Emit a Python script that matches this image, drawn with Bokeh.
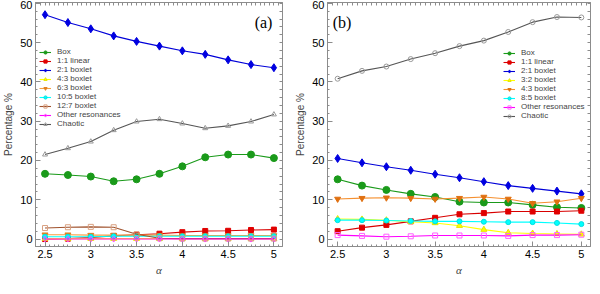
from bokeh.plotting import figure
from bokeh.layouts import row
from bokeh.models import Range1d, LinearAxis, Label, Legend, LegendItem, FixedTicker
from bokeh.embed import file_html
from bokeh.resources import INLINE

# ---------------- data ----------------
alpha = [2.5, 2.75, 3.0, 3.25, 3.5, 3.75, 4.0, 4.25, 4.5, 4.75, 5.0]

# panel (a)
a_box = [16.6, 16.3, 15.9, 14.7, 15.2, 16.6, 18.5, 20.8, 21.5, 21.5, 20.6]
a_linear_11 = [0.0, 0.1, 0.4, 0.8, 1.1, 1.35, 1.75, 2.05, 2.1, 2.3, 2.4]
a_boxlet_21 = [57.1, 55.1, 53.5, 51.7, 50.3, 49.1, 47.9, 47.0, 45.6, 44.4, 43.6]
a_boxlet_43 = [0.1, 0.1, 0.1, 0.1, 0.1, 0.1, 0.1, 0.1, 0.1, 0.1, 0.1]
a_boxlet_63 = [1.1, 1.1, 1.0, 1.0, 1.0, 1.0, 0.9, 0.9, 0.9, 0.9, 0.9]
a_boxlet_105 = [0.6, 0.6, 0.6, 0.7, 0.7, 0.7, 0.7, 0.7, 0.7, 0.7, 0.7]
a_boxlet_127 = [2.8, 3.0, 3.1, 3.0, 1.2, 0.2, 0.1, 0.1, 0.1, 0.1, 0.1]
a_other = [0.0, 0.0, 0.0, 0.0, 0.0, 0.0, 0.0, 0.0, 0.0, 0.0, 0.0]
a_chaotic = [21.5, 23.1, 24.8, 27.7, 29.9, 30.5, 29.4, 28.2, 28.8, 29.9, 31.7]

# panel (b)
b_box = [15.2, 13.6, 12.5, 11.5, 10.7, 9.5, 9.3, 9.3, 8.7, 8.1, 7.9]
b_linear_11 = [2.0, 2.9, 3.6, 4.5, 5.4, 6.3, 6.6, 7.0, 7.0, 7.0, 7.2]
b_boxlet_21 = [20.5, 19.4, 18.4, 17.5, 16.5, 15.6, 14.6, 13.6, 12.9, 12.2, 11.5]
b_boxlet_32 = [5.1, 5.0, 4.8, 4.4, 4.1, 3.4, 2.4, 1.6, 1.4, 1.3, 1.2]
b_boxlet_43 = [10.2, 10.4, 10.5, 10.4, 10.2, 10.4, 10.7, 10.2, 9.1, 9.5, 10.4]
b_boxlet_85 = [4.8, 4.8, 4.7, 4.6, 4.5, 4.5, 4.4, 4.3, 4.3, 4.1, 3.8]
b_other = [1.0, 0.8, 0.6, 0.7, 0.9, 0.9, 0.9, 0.8, 1.0, 1.0, 1.1]
b_chaotic = [40.8, 42.8, 43.9, 45.8, 47.3, 49.1, 50.5, 52.7, 55.2, 56.5, 56.4]

x_ticks = [2.5, 3.0, 3.5, 4.0, 4.5, 5.0]
y_ticks = [0, 10, 20, 30, 40, 50, 60]

# style tuples: (label, values, line color, marker, marker fill, marker line color, size)
series_a = [
    ("Box", a_box, "#1a9a1a", "circle", "#1a9a1a", "#1a9a1a", 7),
    ("1:1 linear", a_linear_11, "#d80000", "square", "#e00000", "#e00000", 5),
    ("2:1 boxlet", a_boxlet_21, "#0000d8", "diamond", "#0000e0", "#0000e0", 8),
    ("4:3 boxlet", a_boxlet_43, "#ffff00", "triangle", "#ffff00", "#e6e600", 6),
    ("6:3 boxlet", a_boxlet_63, "#f5a040", "inverted_triangle", "#e08020", "#e08020", 6),
    ("10:5 boxlet", a_boxlet_105, "#00ffff", "circle", "#00ffff", "#00e0e0", 5),
    ("12:7 boxlet", a_boxlet_127, "#a0522d", "square", None, "#d8a080", 5),
    ("Other resonances", a_other, "#ff00ff", "diamond", None, "#ff40ff", 6),
    ("Chaotic", a_chaotic, "#555555", "triangle", None, "#999999", 5),
]
series_b = [
    ("Box", b_box, "#1a9a1a", "circle", "#1a9a1a", "#1a9a1a", 7),
    ("1:1 linear", b_linear_11, "#d80000", "square", "#e00000", "#e00000", 5),
    ("2:1 boxlet", b_boxlet_21, "#0000d8", "diamond", "#0000e0", "#0000e0", 8),
    ("3:2 boxlet", b_boxlet_32, "#ffff00", "triangle", "#ffff00", "#e6e600", 6),
    ("4:3 boxlet", b_boxlet_43, "#f59030", "inverted_triangle", "#e07010", "#e07010", 6),
    ("8:5 boxlet", b_boxlet_85, "#00ffff", "circle", "#00ffff", "#00e0e0", 5),
    ("Other resonances", b_other, "#ff00ff", "square", None, "#ff60ff", 5),
    ("Chaotic", b_chaotic, "#555555", "circle", None, "#999999", 5),
]

FONT = "Liberation Sans"
AX = "#8c8c8c"
X_MINOR = [round(2.4 + 0.05 * i, 2) for i in range(55)]
Y_MINOR = list(range(-2, 61, 2))


def style_axis(ax):
    ax.axis_line_color = AX
    ax.major_tick_line_color = AX
    ax.minor_tick_line_color = AX
    ax.major_tick_in = 5
    ax.major_tick_out = 0
    ax.minor_tick_in = 2
    ax.minor_tick_out = 0
    ax.major_label_text_font = FONT
    ax.major_label_text_font_size = "11px"
    ax.major_label_text_color = "black"
    ax.major_label_standoff = 3
    ax.axis_label_text_font = FONT
    ax.axis_label_text_font_size = "10px"
    ax.axis_label_text_font_style = "normal"
    ax.axis_label_standoff = 3


def frame_axis(minor):
    # unlabeled frame side carrying only small inward ticks
    ax = LinearAxis(ticker=FixedTicker(ticks=[], minor_ticks=minor))
    ax.axis_line_color = AX
    ax.minor_tick_line_color = AX
    ax.minor_tick_in = 3
    ax.minor_tick_out = 0
    ax.major_tick_in = 0
    ax.major_tick_out = 0
    ax.major_label_standoff = 0
    return ax


def make_panel(series, width, tag, tag_x, legend_loc, min_right):
    p = figure(width=width, height=278, output_backend="svg", toolbar_location=None,
               x_range=Range1d(2.396, 5.094), y_range=Range1d(-1.9, 60.2),
               min_border_left=0, min_border_right=min_right,
               min_border_top=2, min_border_bottom=2)
    p.grid.visible = False
    p.outline_line_color = AX
    p.background_fill_color = "white"
    p.xaxis.ticker = FixedTicker(ticks=x_ticks, minor_ticks=X_MINOR)
    p.yaxis.ticker = FixedTicker(ticks=y_ticks, minor_ticks=Y_MINOR)
    p.xaxis.axis_label = "α"
    p.yaxis.axis_label = "Percentage %"
    style_axis(p.xaxis[0])
    style_axis(p.yaxis[0])
    p.xaxis.axis_label_text_font = "Liberation Serif"
    p.xaxis.axis_label_text_font_style = "italic"
    p.xaxis.axis_label_text_font_size = "11px"

    p.add_layout(frame_axis(Y_MINOR), "right")
    p.add_layout(frame_axis(X_MINOR), "above")

    items = []
    for (lab, vals, lc, mk, fill, mline, sz) in series:
        r1 = p.line(alpha, vals, line_color=lc, line_width=1.1)
        r2 = p.scatter(alpha, vals, marker=mk, size=sz,
                       fill_color=fill if fill else "white",
                       fill_alpha=1.0 if fill else 0.0,
                       line_color=mline, line_width=1)
        items.append(LegendItem(label=lab, renderers=[r1, r2]))

    leg = Legend(items=items, location=legend_loc,
                 background_fill_alpha=0, border_line_color=None,
                 label_text_font=FONT, label_text_font_size="8px",
                 label_standoff=6, label_height=8, glyph_height=8, glyph_width=12,
                 spacing=0, padding=0, margin=0)
    p.add_layout(leg)

    p.add_layout(Label(x=tag_x, y=57.2, text=tag, text_font="Liberation Serif",
                       text_font_size="16px", text_color="black",
                       text_baseline="top"))
    return p


pa = make_panel(series_a, 292, "(a)", 4.79, (4, 118), 10)
pb = make_panel(series_b, 300, "(b)", 2.45, (176, 126), 2)

layout = row(pa, pb)
open("out.html", "w").write(file_html(layout, INLINE))
